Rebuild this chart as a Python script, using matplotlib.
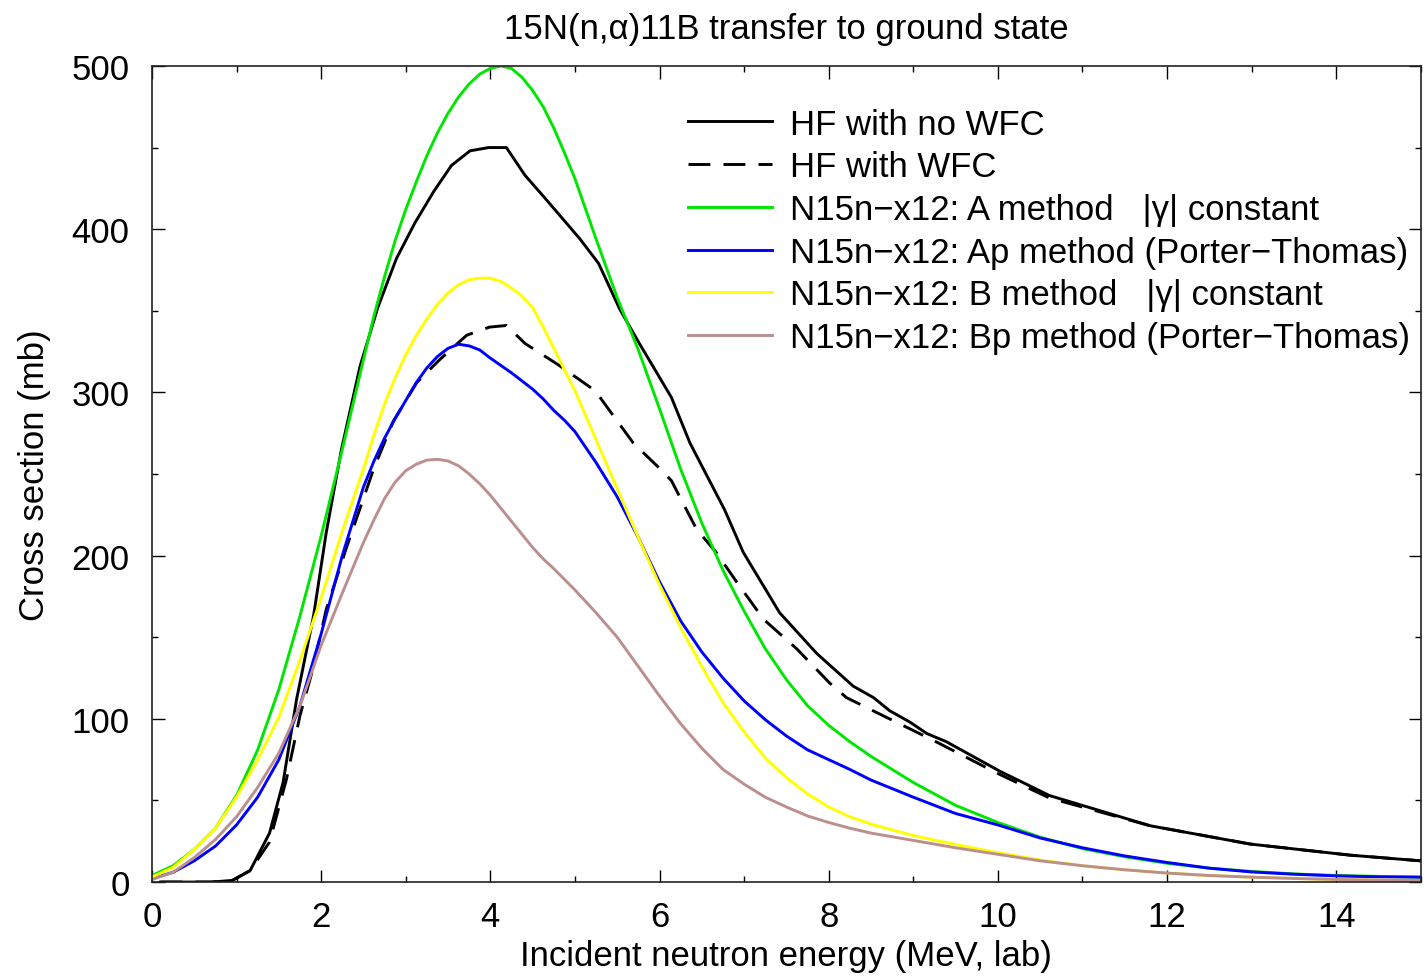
import matplotlib
matplotlib.use("Agg")
import matplotlib.pyplot as plt
from matplotlib.ticker import MultipleLocator

plt.rcParams['font.family'] = ['Liberation Sans', 'DejaVu Sans']

# ---- data ----
E_smooth = [0, 0.25, 0.5, 0.75, 1.0, 1.25, 1.5, 1.75, 2.0, 2.25, 2.5,
            2.625, 2.75, 2.875, 3.0, 3.125, 3.25, 3.375, 3.5, 3.625, 3.75,
            3.875, 4.0, 4.125, 4.25, 4.375, 4.5, 4.625, 4.75, 4.875, 5.0,
            5.25, 5.5, 5.75, 6.0, 6.25, 6.5, 6.75, 7.0, 7.25, 7.5, 7.75,
            8.0, 8.25, 8.5, 9.0, 9.5, 10.0, 10.5, 11.0, 11.5, 12.0, 12.5,
            13.0, 13.5, 14.0, 14.5, 15.0]

sig_A = [4, 10, 20, 33, 53, 81, 118, 163, 212, 265, 320,
         347, 371, 393, 412, 429, 445, 459, 471, 481, 489,
         495, 498.5, 500, 498.5, 493, 485, 475, 462, 447, 431,
         394, 358, 326, 290, 253, 220, 191, 166, 143, 124, 108,
         96, 86, 77, 61, 47, 36.5, 27.5, 20.5, 15.5, 11.5, 8.5,
         6.5, 5, 4, 3.5, 3]

sig_Ap = [2, 6, 13, 22, 35, 52, 75, 108, 152, 200, 242,
          258, 272, 284, 295, 306, 315, 322, 327, 329.5, 328.5,
          326, 321, 316.5, 312, 307, 302, 296, 289, 283, 276,
          257, 236, 211, 184, 160, 141, 125, 111, 99.5, 89.5, 81,
          75, 69, 62.5, 52, 42, 35, 27, 21, 16, 12, 8.5,
          6.2, 4.8, 3.8, 3.2, 3]

sig_B = [3, 9, 20, 33, 52, 75, 101, 136, 174, 215, 253,
         274, 293, 309, 323, 335, 345, 354, 361, 366, 369,
         370, 370, 368, 364, 359, 352, 340, 327, 314, 301,
         271, 241, 211, 182, 156, 132, 110, 92, 76, 64, 54,
         46, 40, 35.5, 28.5, 23, 18, 13.5, 10, 7.5, 5.5, 4,
         3, 2.2, 1.6, 1.2, 1]

sig_Bp = [1.5, 6, 15, 26, 40, 58, 79, 108, 145, 177, 208,
          222, 235, 245, 252, 256, 258.5, 259, 258, 255, 250,
          244, 237, 229, 221, 213, 205, 198, 192, 185.5, 179,
          165, 150, 132, 114, 97, 82, 69, 60, 52, 46, 40.5,
          36.5, 33, 30, 25.5, 21, 17, 13, 10, 7.5, 5.5, 4,
          3, 2.2, 1.6, 1.2, 1]

E_hf = [0.1, 0.7, 0.95, 1.16, 1.39, 1.55, 1.71, 1.91, 2.06, 2.24, 2.46, 2.67,
        2.89, 3.11, 3.33, 3.54, 3.76, 3.98, 4.19, 4.41, 4.63, 5.06, 5.28, 5.53,
        5.75, 6.14, 6.36, 6.52, 6.77, 6.99, 7.42, 7.86, 8.29, 8.53, 8.72, 8.96,
        9.16, 9.39, 10.02, 10.61, 11.8, 12.98, 14.16, 15.0]
sig_hf_nowfc = [0, 0, 1, 7, 30, 61, 112, 163, 214, 265, 316, 352,
                382, 404, 423, 439, 448, 450, 450, 433, 420, 394, 379, 351,
                331, 297, 269, 253, 228, 202, 165, 140, 120, 113, 105, 98,
                91, 86, 68, 53, 34.5, 23.3, 16.5, 13]

E_wfc = [0.1, 0.7, 0.95, 1.16, 1.39, 1.59, 1.75, 1.91, 2.06, 2.3, 2.62, 2.85,
         3.13, 3.40, 3.72, 3.99, 4.19, 4.41, 4.80, 5.24, 5.45, 5.69, 5.97, 6.14,
         6.44, 6.67, 6.91, 7.23, 7.62, 8.01, 8.21, 8.64, 9.23, 9.83, 10.02, 10.61,
         11.8, 12.98, 14.16, 15.0]
sig_hf_wfc = [0, 0, 1, 7, 24.5, 63, 102, 132, 167, 205, 253, 282,
              306, 320, 335, 340, 341, 330, 317, 301, 286, 269, 255, 246,
              216, 202, 184, 161, 143, 122, 113, 102, 87, 71, 66, 51.5,
              34.5, 23.3, 16.5, 13]

labels = ["HF with no WFC",
          "HF with WFC",
          "N15n\u2212x12: A method   |\u03b3| constant",
          "N15n\u2212x12: Ap method (Porter\u2212Thomas)",
          "N15n\u2212x12: B method   |\u03b3| constant",
          "N15n\u2212x12: Bp method (Porter\u2212Thomas)"]

fig = plt.figure(figsize=(14.28, 9.79), dpi=100)
ax = fig.add_axes([0.1064, 0.098, 0.8886, 0.8336])

lw = 2.1
ax.plot(E_hf, sig_hf_nowfc, color='black', lw=lw, label=labels[0])
ax.plot(E_wfc, sig_hf_wfc, color='black', lw=lw, ls=(0, (7.5, 4.5)), label=labels[1])
ax.plot(E_smooth, sig_A, color='#00e600', lw=lw, label=labels[2])
ax.plot(E_smooth, sig_Ap, color='#0000ff', lw=lw, label=labels[3])
ax.plot(E_smooth, sig_B, color='#ffff00', lw=lw, label=labels[4])
ax.plot(E_smooth, sig_Bp, color='#bc8f8f', lw=lw, label=labels[5])

ax.set_xlim(0, 15)
ax.set_ylim(0, 500)
ax.xaxis.set_major_locator(MultipleLocator(2))
ax.xaxis.set_minor_locator(MultipleLocator(1))
ax.yaxis.set_major_locator(MultipleLocator(100))
ax.yaxis.set_minor_locator(MultipleLocator(50))
ax.tick_params(which='both', direction='in', top=True, right=True,
               labelsize=25, width=1.0, colors='black')
ax.tick_params(which='major', length=9)
ax.tick_params(which='minor', length=4.5)
ax.tick_params(axis='x', which='major', pad=13)
ax.tick_params(axis='y', which='major', pad=16)
for s in ax.spines.values():
    s.set_linewidth(1.2)
    s.set_color('#222222')

ax.set_xlabel("Incident neutron energy (MeV, lab)", fontsize=25, labelpad=4)
ax.set_ylabel("Cross section (mb)", fontsize=25, labelpad=15)
ax.set_title("15N(n,\u03b1)11B transfer to ground state", fontsize=25, pad=20)

leg = ax.legend(loc='upper left', bbox_to_anchor=(0.4224, 0.949), frameon=False,
                fontsize=25, handlelength=2.42, handletextpad=0.52,
                labelspacing=0.28, borderaxespad=0, borderpad=0)

fig.savefig("out.png", dpi=100)
